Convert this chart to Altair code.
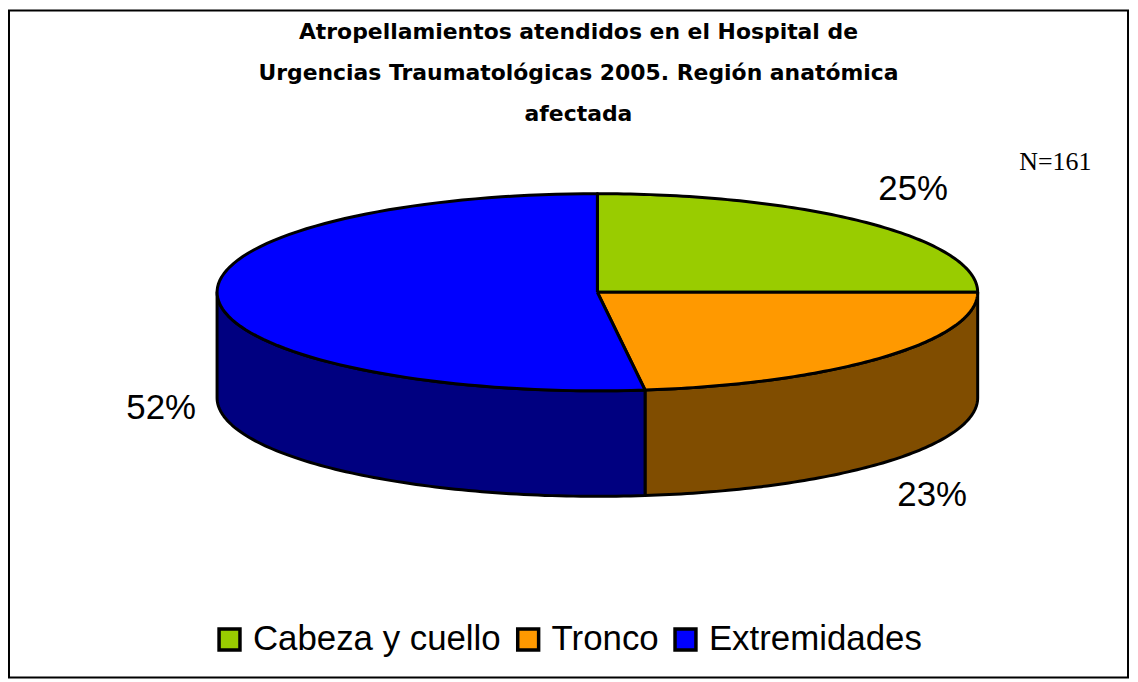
import altair as alt
import pandas as pd

# ---- data ----
regions = ["Cabeza y cuello", "Tronco", "Extremidades"]
percent = [25, 23, 52]
total_n = "N=161"
title_lines = [
    "Atropellamientos atendidos en el Hospital de",
    "Urgencias Traumatológicas 2005. Región anatómica",
    "afectada",
]

# ---- styles / layout ----
top_colors = ["#99cc00", "#ff9900", "#0000ff"]
side_colors = ["#804d00", "#804d00", "#000080"]
W, H = 1124, 670
CX, CY = 591, 283          # centre of the pie's top face (view px)
RX, RY, DEPTH = 382, 99, 106
LX, LY, LD, LDX = 443, 147, 107, 4  # label placement radii / offsets
NSEG = 90

df = pd.DataFrame({"region": regions, "pct": percent, "k": list(range(len(regions)))})

xs = alt.Scale(domain=[0, W], nice=False, zero=False)
ys = alt.Scale(domain=[0, H], nice=False, zero=False, reverse=True)

base = (
    alt.Chart(df)
    .transform_window(cum="sum(pct)", sort=[alt.SortField("k")], frame=[None, 0])
    .transform_joinaggregate(total="sum(pct)")
    .transform_calculate(a0="(datum.cum - datum.pct) / datum.total * 2 * PI")
    .transform_calculate(a1="datum.cum / datum.total * 2 * PI")
)

# side walls (front half of the cylinder)
side = (
    base.transform_calculate(s0="max(datum.a0, PI / 2)")
    .transform_calculate(s1="min(datum.a1, 3 * PI / 2)")
    .transform_filter("datum.s1 > datum.s0")
    .transform_calculate(pts=f"sequence(0, {2 * NSEG + 3})")
    .transform_flatten(["pts"], as_=["i"])
    .transform_calculate(low=f"datum.i > {NSEG} && datum.i <= {2 * NSEG + 1}")
    .transform_calculate(
        t=f"datum.i <= {NSEG} ? datum.i / {NSEG} : (datum.i <= {2 * NSEG + 1} ? ({2 * NSEG + 1} - datum.i) / {NSEG} : 0)"
    )
    .transform_calculate(ang="datum.s0 + (datum.s1 - datum.s0) * datum.t")
    .transform_calculate(px=f"{CX} + {RX} * sin(datum.ang)")
    .transform_calculate(py=f"{CY} - {RY} * cos(datum.ang) + (datum.low ? {DEPTH} : 0)")
    .mark_line(stroke="black", strokeWidth=3, strokeJoin="round")
    .encode(
        x=alt.X("px:Q", scale=xs, axis=None),
        y=alt.Y("py:Q", scale=ys, axis=None),
        fill=alt.Fill("region:N", scale=alt.Scale(domain=regions, range=side_colors), legend=None),
        detail="region:N",
        order="i:Q",
    )
)

# top face wedges
top = (
    base.transform_calculate(pts=f"sequence(0, {NSEG + 3})")
    .transform_flatten(["pts"], as_=["i"])
    .transform_calculate(edge=f"datum.i >= 1 && datum.i <= {NSEG + 1}")
    .transform_calculate(ang=f"datum.a0 + (datum.a1 - datum.a0) * (datum.i - 1) / {NSEG}")
    .transform_calculate(px=f"datum.edge ? {CX} + {RX} * sin(datum.ang) : {CX}")
    .transform_calculate(py=f"datum.edge ? {CY} - {RY} * cos(datum.ang) : {CY}")
    .mark_line(stroke="black", strokeWidth=3, strokeJoin="round")
    .encode(
        x=alt.X("px:Q", scale=xs, axis=None),
        y=alt.Y("py:Q", scale=ys, axis=None),
        fill=alt.Fill(
            "region:N",
            scale=alt.Scale(domain=regions, range=top_colors),
            legend=alt.Legend(
                title=None,
                orient="none",
                legendX=204,
                legendY=614,
                direction="horizontal",
                columns=3,
                symbolType="square",
                symbolSize=441,
                symbolStrokeColor="black",
                symbolStrokeWidth=3.5,
                symbolOpacity=1,
                labelFont="Liberation Sans",
                labelFontSize=35,
                labelColor="black",
                labelLimit=500,
                labelOffset=6,
                columnPadding=9,
                padding=0,
            ),
        ),
        detail="region:N",
        order="i:Q",
    )
)

labels = (
    base.transform_calculate(mid="(datum.a0 + datum.a1) / 2")
    .transform_calculate(lx=f"{CX + LDX} + {LX} * sin(datum.mid)")
    .transform_calculate(ly=f"{CY} - {LY} * cos(datum.mid) + (cos(datum.mid) < 0 ? {LD} : 0)")
    .transform_calculate(txt="datum.pct + '%'")
    .mark_text(font="Liberation Sans", fontSize=35, align="center", baseline="middle", color="black")
    .encode(x=alt.X("lx:Q", scale=xs, axis=None), y=alt.Y("ly:Q", scale=ys, axis=None), text="txt:N")
)

nlabel = (
    alt.Chart(pd.DataFrame({"t": [total_n]}))
    .mark_text(font="Liberation Serif", fontSize=26, align="center", baseline="middle", color="black")
    .encode(x=alt.value(1051), y=alt.value(152), text="t:N")
)

chart = (
    alt.layer(side, top, labels, nlabel)
    .resolve_scale(fill="independent")
    .properties(
        width=W,
        height=H,
        padding={"left": 1, "top": 1, "right": 2, "bottom": 2},
        autosize=alt.AutoSizeParams(type="none"),
        background="white",
        title=alt.TitleParams(
            text=title_lines,
            font="DejaVu Sans",
            fontWeight="bold",
            fontSize=22,
            lineHeight=41,
            anchor="middle",
            dx=10,
            offset=-116,
            color="black",
        ),
    )
    .configure_view(stroke="black", strokeWidth=2)
)

chart.save("out.html", embed_options={"renderer": "svg", "actions": False})
